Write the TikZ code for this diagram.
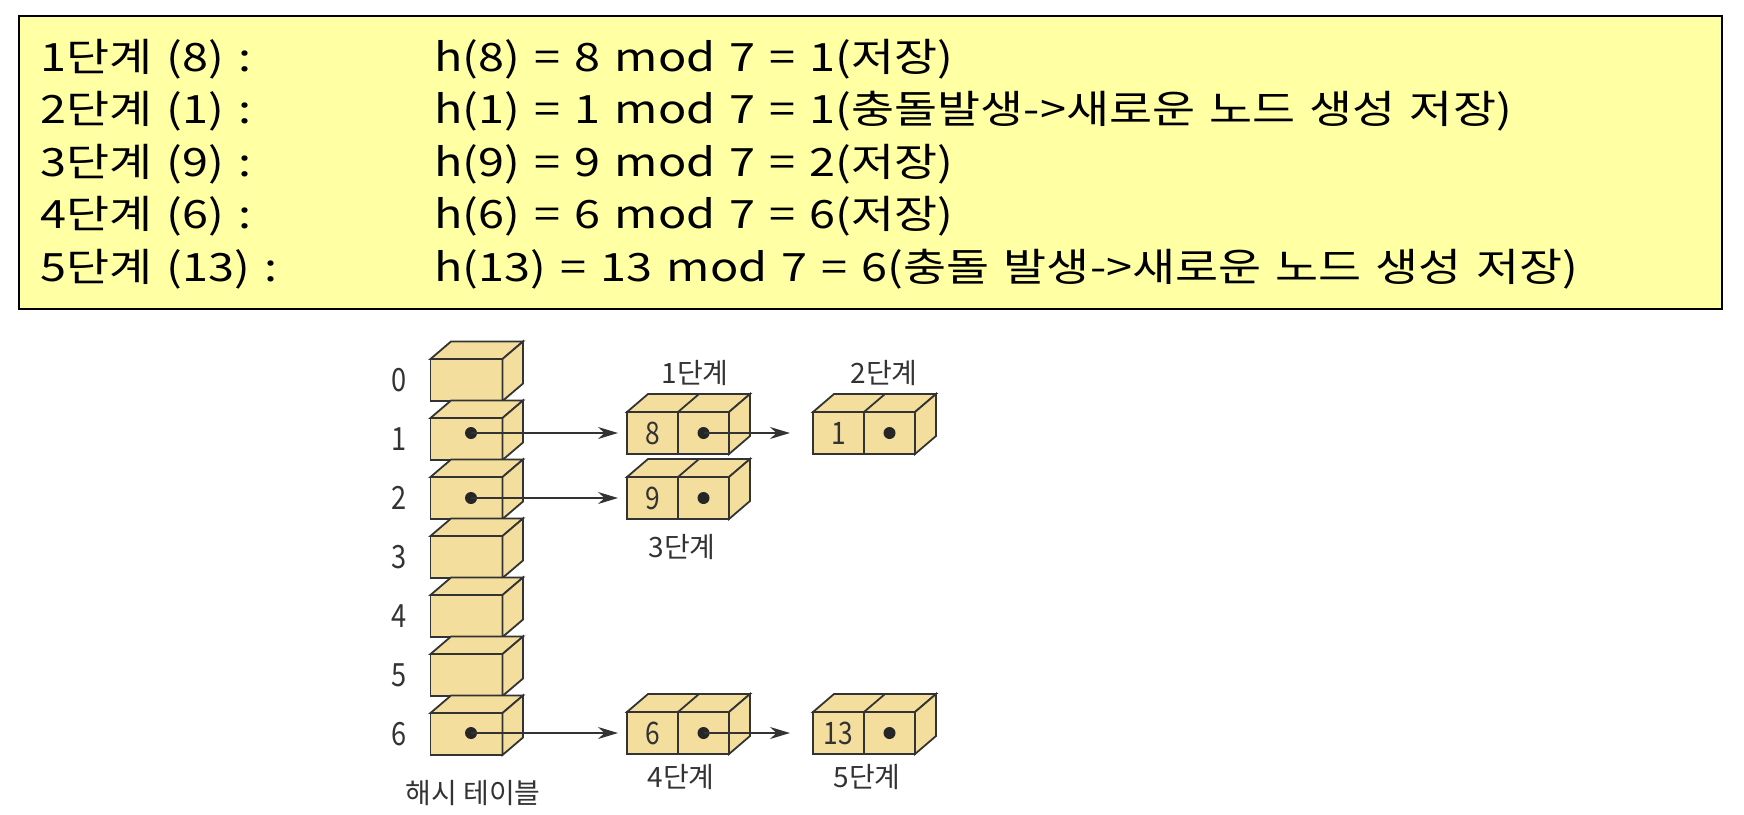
\documentclass[tikz,border=0pt]{standalone}
\usepackage{fontspec}
\setmainfont{Noto Sans CJK KR}
\newfontfamily\memofont{Noto Sans CJK KR}[FakeStretch=1.2, WordSpace=1.35]
\newfontfamily\narrowfont{Noto Sans CJK KR}[FakeStretch=0.85]
\usepackage{xcolor}
\usepackage{tikz}
\usetikzlibrary{positioning, arrows.meta, calc}

\definecolor{memo}{HTML}{FFFFA3}
\definecolor{cube}{HTML}{F3DE9E}
\definecolor{ink}{HTML}{333333}

\tikzset{
    face/.style={draw=ink, fill=cube, line width=0.9pt, outer sep=0pt},
    slot/.style={face, minimum width=36pt, minimum height=21pt, inner sep=0pt},
    cell/.style={face, minimum width=25.5pt, minimum height=21pt, inner sep=0pt, text=ink, font=\narrowfont\fontsize{15.5}{15.5}\selectfont},
    ptr/.style={circle, fill=black!85, inner sep=0pt, minimum size=6pt},
    link/.style={-{Stealth[length=10pt, width=6pt]}, ink, line width=0.65pt},
    lbl/.style={text=ink, font=\fontsize{14}{14}\selectfont},
    idx/.style={text=ink, font=\narrowfont\fontsize{16}{16}\selectfont},
    memotxt/.style={anchor=base west, inner sep=0pt, font=\memofont\fontsize{19.5}{19.5}\selectfont}
}

\begin{document}
\begin{tikzpicture}[x=0.5pt, y=-0.5pt]
    \useasboundingbox (0,0) rectangle (1744,814);

    % hash steps
    \draw[fill=memo, line width=1.3pt] (19,16) rectangle (1722,309);
    \foreach \k/\v [count=\i from 0] in {
        {1단계 (8) :}/{h(8) = 8 mod 7 = 1(저장)},
        {2단계 (1) :}/{h(1) = 1 mod 7 = 1(충돌발생->새로운 노드 생성 저장)},
        {3단계 (9) :}/{h(9) = 9 mod 7 = 2(저장)},
        {4단계 (6) :}/{h(6) = 6 mod 7 = 6(저장)},
        {5단계 (13) :}/{h(13) = 13 mod 7 = 6(충돌 발생->새로운 노드 생성 저장)}} {
        \node[memotxt] (k\i) at (40, 71+52.5*\i) {\k};
        \node[memotxt] (v\i) at (434, 71+52.5*\i) {\v};
    }

    % hash table
    \foreach \i in {0,...,6} {
        \node[slot, anchor=north west] (t\i) at (430.5, 359+59*\i) {};
        \path[face] (t\i.north west) -- ++(20.5,-17.5) -- ($(t\i.north east)+(20.5,-17.5)$) -- (t\i.north east) -- cycle;
        \path[face] (t\i.north east) -- ++(20.5,-17.5) -- ($(t\i.south east)+(20.5,-17.5)$) -- (t\i.south east) -- cycle;
        \node[idx] (n\i) at (399, 380+59*\i) {\i};
    }
    \node[lbl] (tbl) at (473, 793) {해시 테이블};

    % chain nodes
    \foreach \v/\x/\y/\n in {8/627/412/a, 1/813/412/b, 9/627/477/c, 6/627/712/d, 13/813/712/e} {
        \node[cell, anchor=north west] (key\n) at (\x, \y) {\v};
        \node[cell, anchor=north west] (nxt\n) at (key\n.north east) {};
        \path[face] (key\n.north west) -- ++(21,-18) -- ($(nxt\n.north east)+(21,-18)$) -- (nxt\n.north east) -- cycle;
        \draw[face] (key\n.north east) -- ++(21,-18);
        \path[face] (nxt\n.north east) -- ++(21,-18) -- ($(nxt\n.south east)+(21,-18)$) -- (nxt\n.south east) -- cycle;
    }

    \node[lbl] (s1) at (695, 373) {1단계};
    \node[lbl] (s2) at (884, 373) {2단계};
    \node[lbl] (s3) at (682, 547) {3단계};
    \node[lbl] (s4) at (681, 777) {4단계};
    \node[lbl] (s5) at (867, 777) {5단계};

    % pointers
    \node[ptr] (hd1) at (471, 433) {};
    \node[ptr] (hd2) at (471, 498) {};
    \node[ptr] (hd6) at (471, 733) {};
    \foreach \n in {a,b,c,d,e} {
        \node[ptr] (dot\n) at (nxt\n.center) {};
    }
    \draw[link, shorten >=4.5pt] (hd1.center) -- (keya.west);
    \draw[link, shorten >=4.5pt] (hd2.center) -- (keyc.west);
    \draw[link, shorten >=4.5pt] (hd6.center) -- (keyd.west);
    \draw[link, shorten >=11.5pt] (dota.center) -- (keyb.west);
    \draw[link, shorten >=11.5pt] (dotd.center) -- (keye.west);
\end{tikzpicture}
\end{document}
